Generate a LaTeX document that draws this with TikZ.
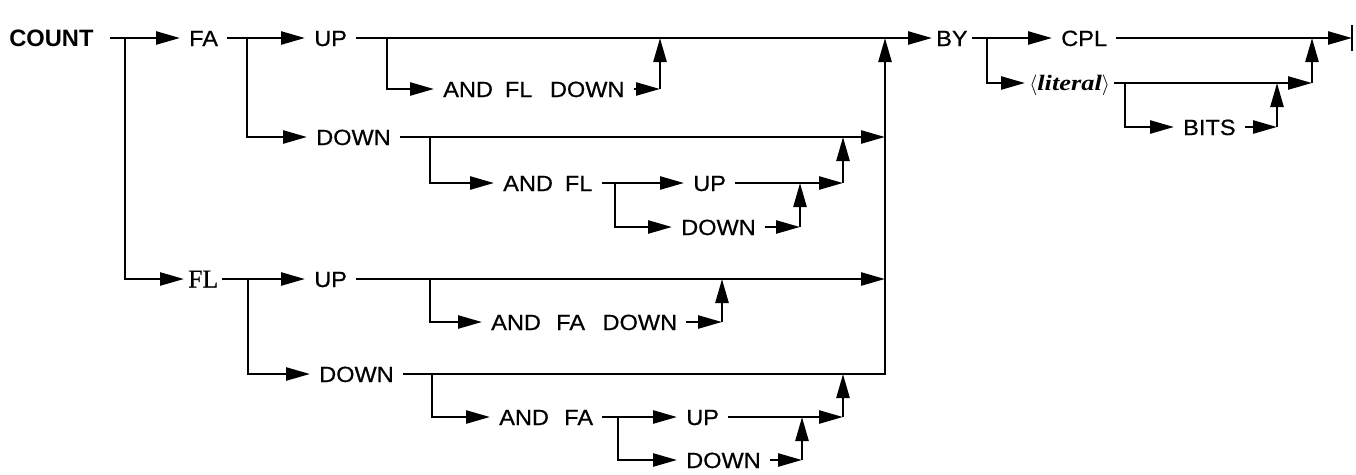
\documentclass[tikz,border=0pt]{standalone}
\usepackage{fontspec}
\setmainfont{Liberation Sans}[FakeStretch=1.07,FakeBold=0.6]
\newfontfamily\cntfont{Liberation Sans}
\newfontfamily\serfont{Liberation Serif}[FakeBold=0.6]
\newfontfamily\litfont{Liberation Serif}[FakeStretch=1.2]
\usetikzlibrary{arrows.meta}
\begin{document}
\begin{tikzpicture}[x=1pt,y=-1pt,line width=2.5pt,
  arr/.style={-{Triangle[length=24pt,width=13pt]}},
  lbl/.style={anchor=west,inner xsep=8pt,inner ysep=0pt,text height=16pt,text depth=0pt,
    font=\fontsize{22}{24}\selectfont},
  cnt/.style={lbl,text height=17pt,inner xsep=15pt,font=\fontsize{23.7}{26}\cntfont\bfseries},
  ser/.style={lbl,text height=17pt,inner xsep=3pt,font=\fontsize{25.7}{28}\serfont},
  lit/.style={lbl,text height=14pt,inner xsep=3pt,font=\fontsize{22}{24}\litfont\bfseries\itshape}]
\useasboundingbox (0,0) rectangle (1356,474);
% labels
\node[cnt] (count) at (-7,38) {COUNT};
\node[lbl] (fa) at (180,38) {FA};
\node[lbl] (faup) at (305,38) {UP};
\node[lbl] (fadown) at (307,137) {DOWN};
\node[lbl] (afldn) at (434,89) {AND\hspace{0.25em} FL\hspace{0.5em} DOWN};
\node[lbl] (andfl) at (494,183) {AND\hspace{0.25em} FL};
\node[lbl] (upb) at (684,183) {UP};
\node[lbl] (dnb) at (672,227) {DOWN};
\node[ser] (fl) at (184,279) {FL};
\node[lbl] (flup) at (305,279) {UP};
\node[lbl] (afadn) at (482,322) {AND\hspace{0.4em} FA\hspace{0.5em} DOWN};
\node[lbl] (fldown) at (310,374) {DOWN};
\node[lbl] (andfa) at (490,417) {AND\hspace{0.4em} FA};
\node[lbl] (upc) at (677,417) {UP};
\node[lbl] (dnc) at (677,460) {DOWN};
\node[lbl,inner xsep=3pt] (by) at (932,38) {BY};
\node[lbl] (cpl) at (1052,38) {CPL};
\node[lit] (literal) at (1025,83) {$\langle$literal$\rangle$};
\node[lbl] (bits) at (1174,127) {BITS};
% coordinates
\coordinate (b0) at (125,38);
\coordinate (b0d) at (125,279);
\coordinate (b1) at (247,38);
\coordinate (b1d) at (247,137);
\coordinate (b2) at (387,38);
\coordinate (b2d) at (387,89);
\coordinate (m1d) at (660,89);
\coordinate (m1) at (660,38);
\coordinate (M) at (885,38);
\coordinate (Mfa) at (885,137);
\coordinate (Mfl) at (885,279);
\coordinate (Mb) at (885,374);
\coordinate (b3) at (430,137);
\coordinate (b3d) at (430,183);
\coordinate (b4) at (615,183);
\coordinate (b4d) at (615,227);
\coordinate (m2d) at (843,183);
\coordinate (m2) at (843,137);
\coordinate (m3d) at (800,227);
\coordinate (m3) at (800,183);
\coordinate (b5) at (248,279);
\coordinate (b5d) at (248,374);
\coordinate (b6) at (430,279);
\coordinate (b6d) at (430,322);
\coordinate (m4d) at (722,322);
\coordinate (m4) at (722,279);
\coordinate (b7) at (432,374);
\coordinate (b7d) at (432,417);
\coordinate (b8) at (618,417);
\coordinate (b8d) at (618,460);
\coordinate (m5d) at (843,417);
\coordinate (m5) at (843,374);
\coordinate (m6d) at (802,460);
\coordinate (m6) at (802,417);
\coordinate (b9) at (987,38);
\coordinate (b9d) at (987,83);
\coordinate (endp) at (1352,38);
\coordinate (m7d) at (1312,83);
\coordinate (m7) at (1312,38);
\coordinate (b10) at (1125,83);
\coordinate (b10d) at (1125,127);
\coordinate (m8d) at (1277,127);
\coordinate (m8) at (1277,83);
% COUNT
\draw[arr] (count.east) -- (fa.west);
\draw[arr] (b0) -- (b0d) -- (fl.west);
% FA
\draw[arr] (fa.east) -- (faup.west);
\draw[arr] (b1) -- (b1d) -- (fadown.west);
\draw[arr] (faup.east) -- (by.west);
\draw[arr] (b2) -- (b2d) -- (afldn.west);
\draw[arr] (afldn.east) -- (m1d);
\draw[arr] (m1d) -- (m1);
\draw[arr] (fadown.east) -- (Mfa);
\draw[arr] (b3) -- (b3d) -- (andfl.west);
\draw[arr] (andfl.east) -- (upb.west);
\draw[arr] (b4) -- (b4d) -- (dnb.west);
\draw[arr] (upb.east) -- (m2d);
\draw[arr] (m2d) -- (m2);
\draw[arr] (dnb.east) -- (m3d);
\draw[arr] (m3d) -- (m3);
% FL
\draw[arr] (fl.east) -- (flup.west);
\draw[arr] (b5) -- (b5d) -- (fldown.west);
\draw[arr] (flup.east) -- (Mfl);
\draw[arr] (b6) -- (b6d) -- (afadn.west);
\draw[arr] (afadn.east) -- (m4d);
\draw[arr] (m4d) -- (m4);
\draw[arr] (fldown.east) -- (Mb) -- (M);
\draw[arr] (b7) -- (b7d) -- (andfa.west);
\draw[arr] (andfa.east) -- (upc.west);
\draw[arr] (b8) -- (b8d) -- (dnc.west);
\draw[arr] (upc.east) -- (m5d);
\draw[arr] (m5d) -- (m5);
\draw[arr] (dnc.east) -- (m6d);
\draw[arr] (m6d) -- (m6);
% BY
\draw[arr] (by.east) -- (cpl.west);
\draw[arr] (b9) -- (b9d) -- (literal.west);
\draw[arr] (cpl.east) -- (endp);
\draw (1352,25) -- (1352,51);
\draw[arr] (literal.east) -- (m7d);
\draw[arr] (m7d) -- (m7);
\draw[arr] (b10) -- (b10d) -- (bits.west);
\draw[arr] (bits.east) -- (m8d);
\draw[arr] (m8d) -- (m8);
\end{tikzpicture}
\end{document}
